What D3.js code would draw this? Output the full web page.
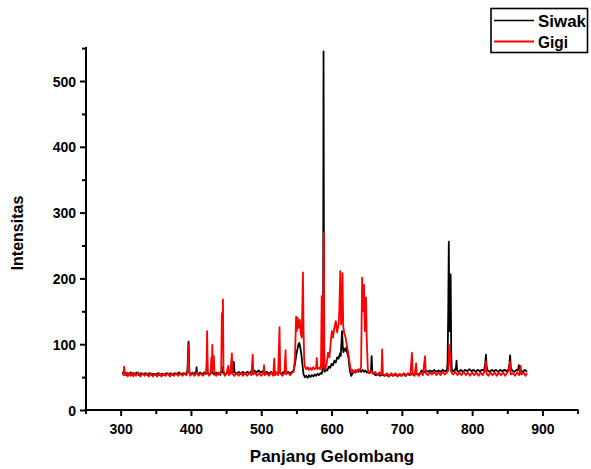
<!DOCTYPE html>
<html>
<head>
<meta charset="utf-8">
<title>Spektrum</title>
<script src="https://d3js.org/d3.v7.min.js"></script>
<style>
	body{ margin:0; background:#fff; }
	svg text{ font-family: "Liberation Sans", Arial, sans-serif; font-weight:bold; fill:#000; }
</style>
</head>
<body>
<script>
	// data: [panjang gelombang, intensitas]
	var seriesNames = ["Siwak", "Gigi"]
	var seriesColors = ["#000000", "#ff0000"]
	var xTicks = [300,400,500,600,700,800,900]
	var yTicks = [0,100,200,300,400,500]

	var siwak = [[303,58],[304,54],[306,57],[308,53],[310,56],[312,54],[314,57],[316,53],[318,56],[320,54],[323,57],[326,53],[329,56],[332,54],[335,56],[338,53],[341,56],[344,53],[347,55],[350,53],[353,56],[356,53],[359,55],[362,53],[365,56],[368,54],[371,56],[374,53],[377,56],[380,54],[383,57],[386,54],[389,56],[392,54],[394,57],[395,60],[396,90],[396.6,104],[397.3,70],[398,56],[400,54],[402,57],[404,54],[406,57],[407.5,58],[408,65],[408.6,56],[410,54],[413,57],[416,54],[419,57],[421,55],[422,58],[423,75],[423.6,56],[426,54],[429,57],[430,62],[431,56],[433,54],[436,57],[439,54],[442,57],[444,58],[445,65],[446,56],[449,54],[452,57],[455,55],[458,57],[460,58],[461,73],[462,57],[465,55],[468,58],[471,55],[474,58],[477,55],[480,58],[483,56],[486,59],[488,57],[490,60],[493,57],[496,60],[499,57],[502,59],[505,56],[508,58],[511,55],[514,58],[517,55],[520,58],[523,55],[526,58],[529,55],[532,58],[535,56],[538,58],[541,56],[544,58],[546,60],[548,70],[550,85],[552,95],[553,100],[554,102],[555,98],[556,92],[557,85],[558,75],[559,65],[560,55],[562,50],[564,52],[566,49],[568,53],[570,50],[572,53],[574,51],[576,54],[578,52],[580,55],[582,53],[584,56],[586,55],[587,60],[588,100],[588.6,545],[589.4,90],[590,58],[592,62],[594,60],[596,66],[598,64],[600,70],[602,68],[604,75],[606,72],[608,80],[610,78],[612,86],[613,82],[614,100],[615,120],[616,95],[617,88],[618,93],[620,90],[621,95],[622,88],[624,80],[625,70],[626,60],[628,52],[630,56],[632,59],[634,57],[636,60],[638,58],[640,60],[642,58],[644,61],[646,58],[648,60],[650,57],[652,58],[654,56],[656,58],[657,82],[658,57],[660,55],[663,53],[666,55],[669,52],[672,54],[675,52],[678,54],[681,51],[684,54],[687,52],[690,54],[693,52],[696,54],[699,52],[702,55],[705,52],[708,55],[711,53],[714,55],[717,53],[720,55],[723,54],[726,56],[728,60],[731,57],[734,60],[737,58],[740,60],[743,58],[746,61],[749,58],[752,60],[755,58],[758,61],[761,59],[764,60],[765,70],[766,150],[766.8,256],[767.6,120],[768.5,150],[769.4,206],[770.2,90],[771,62],[773,59],[775,60],[777,64],[777.8,75],[778.6,60],[781,58],[784,61],[787,58],[790,61],[793,59],[796,62],[799,59],[802,61],[805,58],[808,61],[811,59],[814,61],[817,60],[818.5,70],[819.6,84],[820.6,66],[822,60],[825,58],[828,61],[831,59],[834,61],[837,58],[840,61],[843,59],[846,61],[849,59],[852,62],[853,70],[854,83],[855,64],[857,60],[860,58],[863,61],[865,60],[866.5,68],[867.5,62],[869,60],[872,58],[875,61],[878,58]]

	var gigi = [[304,52],[305,66],[306,53],[308,57],[310,51],[312,56],[314,52],[316,57],[318,51],[320,56],[322,52],[325,57],[328,51],[331,56],[334,52],[337,56],[340,51],[343,56],[346,51],[349,55],[352,51],[355,56],[358,51],[361,55],[364,52],[367,56],[370,51],[373,55],[376,52],[379,56],[382,52],[385,56],[388,52],[391,56],[394,53],[395.5,60],[396.6,99],[397.4,58],[399,52],[402,56],[405,52],[408,57],[411,52],[414,56],[417,52],[420,56],[422,58],[423,120],[424,55],[426,52],[428,57],[429,79],[429.7,58],[430.4,99],[431.2,62],[432.6,82],[433.5,55],[436,52],[439,57],[442,53],[443,60],[444,147],[444.8,110],[445.5,168],[446.3,60],[448,52],[451,57],[453,67],[454,53],[456,56],[458.3,86],[459,55],[462,52],[465,56],[468,52],[471,57],[474,52],[477,56],[480,52],[483,56],[486,53],[487.9,84],[488.8,54],[491,57],[494,52],[497,56],[500,52],[503,56],[504,68],[505,53],[508,56],[511,52],[514,57],[517,52],[518.5,78],[519.5,53],[522,57],[524,53],[526,126],[527,56],[530,52],[533,56],[534.6,91],[535.5,54],[538,57],[541,53],[544,57],[546,58],[548,80],[549.6,142],[550.5,120],[552,140],[553,125],[555,137],[556,118],[557.6,110],[558.5,160],[559.3,209],[560.2,120],[561,80],[562,66],[564,62],[566,65],[568,61],[570,64],[572,61],[574,65],[576,62],[578,64],[579,79],[580,62],[582,64],[584,62],[585,70],[586,173],[586.8,65],[588,90],[589,269],[589.8,70],[591,62],[593,70],[595,87],[597,80],[599,105],[600.5,120],[602,110],[604,125],[606,135],[608,118],[609,125],[610,130],[611,150],[612.4,211],[613.5,130],[614.5,140],[615.6,208],[616.6,128],[618,117],[620,110],[622,97],[624,85],[626.4,67],[628,58],[630,61],[632,57],[634,61],[636,58],[638,62],[640,60],[642,65],[643.5,201],[644.6,150],[646.2,190],[647.4,120],[649,171],[650,110],[651.6,62],[653,56],[656,60],[659,55],[662,58],[665,53],[668,57],[671,54],[672,92],[673,55],[676,52],[679,56],[682,51],[685,56],[688,52],[691,56],[694,51],[697,55],[700,52],[703,56],[706,52],[709,56],[712,53],[714.4,87],[715.4,55],[718,52],[720.3,71],[721.3,55],[724,52],[727,57],[730,53],[733,82],[734,56],[737,53],[740,57],[743,54],[746,58],[749,53],[752,57],[755,53],[758,58],[761,54],[764,57],[766,60],[767,99.5],[768,70],[769,87],[770,58],[773,54],[776,58],[779,53],[782,57],[785,53],[788,58],[791,53],[794,57],[797,52],[800,57],[803,53],[806,57],[809,52],[812,57],[815,53],[818,60],[819.6,74],[820.6,55],[823,52],[826,57],[829,53],[832,57],[835,52],[838,57],[841,53],[844,57],[847,52],[850,57],[852,60],[854,74],[855,54],[858,56],[861,52],[864,57],[867,53],[869,67],[870,54],[873,57],[876,52],[878,56]]

	var W = 591, H = 469
	var svg = d3.select("body").append("svg").attr("width",W).attr("height",H)

	var x = d3.scaleLinear().domain([250,950]).range([85.5,577.6])
	var y = d3.scaleLinear().domain([0,550]).range([410,48.1])

	// data lines (black first, red on top)
	var line = d3.line().x(d => x(d[0])).y(d => y(d[1]))
	;[siwak, gigi].forEach(function(s,i){
		svg.append("path").datum(s).attr("d",line)
			.attr("fill","none").attr("stroke",seriesColors[i])
			.attr("stroke-width",1.8).attr("stroke-linejoin","round")
	})

	// x axis
	var xAxis = svg.append("g").attr("transform","translate(0,410)")
	xAxis.call(d3.axisBottom(x).tickValues(d3.range(250,951,50)).tickSize(5).tickFormat(""))
	xAxis.select(".domain").attr("stroke","#000").attr("stroke-width",2).attr("d","M84.5,0H578.6")
	xAxis.selectAll(".tick line").attr("stroke-width",2).attr("y2",d => d%100==0 ? 6 : 4)
	xAxis.selectAll(".tick").filter(d => xTicks.indexOf(d) >= 0).append("text")
		.attr("y",24).attr("text-anchor","middle").style("font-size","14px").text(d => d)

	// y axis
	var yAxis = svg.append("g").attr("transform","translate(86,0)")
	yAxis.call(d3.axisLeft(y).tickValues(d3.range(0,551,50)).tickSize(5).tickFormat(""))
	yAxis.select(".domain").attr("stroke","#000").attr("stroke-width",2).attr("d","M0,47V411")
	yAxis.selectAll(".tick line").attr("stroke-width",2).attr("x2",d => d%100==0 ? -6 : -4)
	yAxis.selectAll(".tick").filter(d => yTicks.indexOf(d) >= 0).append("text")
		.attr("x",-10).attr("dy","0.36em").attr("text-anchor","end").style("font-size","14px").text(d => d)

	// axis titles
	svg.append("text").attr("x",332).attr("y",462).attr("text-anchor","middle")
		.style("font-size","17px").text("Panjang Gelombang")
	svg.append("text").attr("transform","translate(23,233) rotate(-90)").attr("text-anchor","middle")
		.style("font-size","16px").text("Intensitas")

	// legend
	var lg = svg.append("g")
	lg.append("rect").attr("x",491).attr("y",8.5).attr("width",96.5).attr("height",44)
		.attr("fill","#fff").attr("stroke","#000").attr("stroke-width",1.6)
	seriesNames.forEach(function(n,i){
		var ly = 20.5 + i*21
		lg.append("line").attr("x1",494).attr("x2",534).attr("y1",ly).attr("y2",ly)
			.attr("stroke",seriesColors[i]).attr("stroke-width",i==0 ? 1.5 : 2)
		lg.append("text").attr("x",538).attr("y",ly+6).style("font-size","17px")
			.attr("textLength", i==0 ? 48 : 30).attr("lengthAdjust","spacingAndGlyphs").text(n)
	})
</script>
</body>
</html>
